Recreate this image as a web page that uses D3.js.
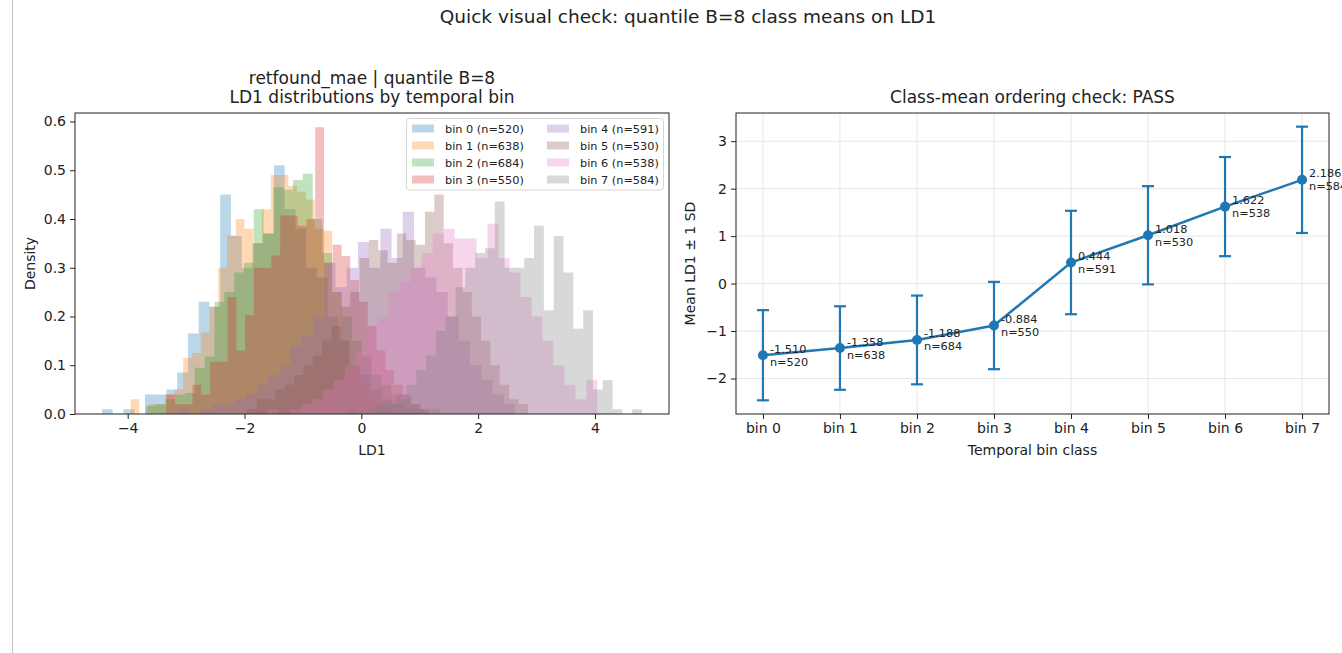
<!DOCTYPE html>
<html>
<head>
<meta charset="utf-8">
<script src="https://cdn.jsdelivr.net/npm/d3@7"></script>
<style>
body { margin: 0; background: #fff; }
text { font-family: "DejaVu Sans", sans-serif; fill: #222; }
</style>
</head>
<body>
<svg id="chart" width="1342" height="653"></svg>
<script>
// temporal bins
var binNames = ["bin 0", "bin 1", "bin 2", "bin 3", "bin 4", "bin 5", "bin 6", "bin 7"];
var binCounts = [520, 638, 684, 550, 591, 530, 538, 584];
var classMeans = [-1.510, -1.358, -1.188, -0.884, 0.444, 1.018, 1.622, 2.186];
var classSDs = [0.95, 0.88, 0.935, 0.92, 1.09, 1.035, 1.045, 1.12];

// LD1 range of each bin (30 histogram bins each)
var histLo = [-4.44, -3.95, -3.69, -3.34, -3.13, -1.95, -1.60, -0.235];
var histHi = [1.08, 0.55, 1.35, 1.16, 2.63, 2.85, 4.04, 4.805];

// density per histogram bin
var dens0 = [0.01, 0, 0.01, 0, 0.04, 0.04, 0.05, 0.085, 0.165, 0.23, 0.22, 0.45, 0.365, 0.30, 0.35, 0.37, 0.51, 0.42, 0.38, 0.30, 0.28, 0.20, 0.15, 0.10, 0.08, 0.05, 0.03, 0.02, 0.01, 0.01];
var dens1 = [0.03, 0, 0.02, 0.02, 0.04, 0.05, 0.115, 0.125, 0.167, 0.22, 0.30, 0.366, 0.40, 0.38, 0.35, 0.42, 0.49, 0.49, 0.468, 0.456, 0.44, 0.38, 0.376, 0.25, 0.15, 0.10, 0.06, 0.04, 0.02, 0.01];
var dens2 = [0.017, 0.02, 0.03, 0.04, 0.043, 0.095, 0.118, 0.23, 0.25, 0.29, 0.31, 0.42, 0.37, 0.465, 0.46, 0.48, 0.493, 0.40, 0.33, 0.25, 0.20, 0.15, 0.12, 0.08, 0.06, 0.04, 0.03, 0.02, 0.01, 0.01];
var dens3 = [0.04, 0.02, 0.02, 0.06, 0.04, 0.107, 0.107, 0.24, 0.13, 0.203, 0.30, 0.30, 0.325, 0.407, 0.407, 0.386, 0.40, 0.588, 0.31, 0.347, 0.324, 0.275, 0.23, 0.18, 0.13, 0.09, 0.06, 0.04, 0.02, 0.01];
var dens4 = [0.01, 0, 0.01, 0.02, 0.02, 0.03, 0.04, 0.06, 0.08, 0.10, 0.14, 0.16, 0.20, 0.31, 0.26, 0.30, 0.353, 0.30, 0.38, 0.32, 0.415, 0.30, 0.28, 0.25, 0.20, 0.15, 0.10, 0.07, 0.04, 0.02];
var dens5 = [0.01, 0.03, 0.03, 0.05, 0.06, 0.08, 0.10, 0.12, 0.15, 0.18, 0.22, 0.25, 0.32, 0.357, 0.336, 0.31, 0.37, 0.357, 0.347, 0.415, 0.45, 0.35, 0.30, 0.25, 0.20, 0.15, 0.10, 0.06, 0.03, 0.02];
var dens6 = [0.01, 0, 0.01, 0.02, 0.03, 0.05, 0.07, 0.10, 0.13, 0.18, 0.20, 0.25, 0.27, 0.30, 0.33, 0.37, 0.38, 0.36, 0.36, 0.32, 0.39, 0.32, 0.29, 0.24, 0.20, 0.15, 0.10, 0.06, 0.03, 0.07];
var dens7 = [0.01, 0, 0.01, 0.02, 0.02, 0.04, 0.06, 0.09, 0.12, 0.17, 0.20, 0.26, 0.30, 0.33, 0.34, 0.436, 0.30, 0.30, 0.32, 0.386, 0.213, 0.365, 0.29, 0.175, 0.213, 0.05, 0.069, 0.01, 0, 0.01];
var densities = [dens0, dens1, dens2, dens3, dens4, dens5, dens6, dens7];

// ticks
var xTicksLeft = [-4, -2, 0, 2, 4];
var yTicksLeft = [0, 0.1, 0.2, 0.3, 0.4, 0.5, 0.6];
var yTicksRight = [-2, -1, 0, 1, 2, 3];

var colors = d3.schemeCategory10;
var svg = d3.select("#chart");

// page border line on the left
svg.append("line").attr("x1", 12.5).attr("x2", 12.5).attr("y1", 0).attr("y2", 653)
   .attr("stroke", "#c4c4c4").attr("stroke-width", 1);

svg.append("text").attr("x", 688).attr("y", 23).attr("text-anchor", "middle")
   .style("font-size", "18.5px").text("Quick visual check: quantile B=8 class means on LD1");

// ---------- left: histograms ----------
var L = {left: 75, right: 669, top: 113, bottom: 414};
var lo = d3.min(histLo), hi = d3.max(histHi);
var pad = 0.05 * (hi - lo);
var xL = d3.scaleLinear().domain([lo - pad, hi + pad]).range([L.left, L.right]);
var maxD = d3.max(densities, function(d) { return d3.max(d); });
var yL = d3.scaleLinear().domain([0, maxD * 1.05]).range([L.bottom, L.top]);

var hists = densities.map(function(vals, i) {
  var w = (histHi[i] - histLo[i]) / vals.length;
  var pts = vals.map(function(v, k) { return {x: histLo[i] + k * w, y: v}; });
  pts.push({x: histHi[i], y: vals[vals.length - 1]});
  return pts;
});

var area = d3.area()
  .x(function(d) { return xL(d.x); })
  .y0(yL(0))
  .y1(function(d) { return yL(d.y); })
  .curve(d3.curveStepAfter);

var gL = svg.append("g");
gL.selectAll("path.hist")
  .data(hists)
  .enter()
  .append("path")
  .attr("class", "hist")
  .attr("d", area)
  .attr("fill", function(d, i) { return colors[i]; })
  .attr("fill-opacity", 0.3);

gL.append("g").attr("transform", "translate(0," + L.bottom + ")")
  .call(d3.axisBottom(xL).tickValues(xTicksLeft).tickFormat(d3.format("d")).tickSize(5).tickPadding(4));
gL.append("g").attr("transform", "translate(" + L.left + ",0)")
  .call(d3.axisLeft(yL).tickValues(yTicksLeft).tickFormat(d3.format(".1f")).tickSize(5).tickPadding(4));

gL.append("rect").attr("x", L.left).attr("y", L.top)
  .attr("width", L.right - L.left).attr("height", L.bottom - L.top)
  .attr("fill", "none").attr("stroke", "#222").attr("stroke-width", 1);

gL.append("text").attr("x", (L.left + L.right) / 2).attr("y", 84).attr("text-anchor", "middle")
  .style("font-size", "17px").text("retfound_mae | quantile B=8");
gL.append("text").attr("x", (L.left + L.right) / 2).attr("y", 103).attr("text-anchor", "middle")
  .style("font-size", "17px").text("LD1 distributions by temporal bin");
gL.append("text").attr("x", (L.left + L.right) / 2).attr("y", 455).attr("text-anchor", "middle")
  .style("font-size", "14px").text("LD1");
gL.append("text").attr("transform", "translate(35," + (L.top + L.bottom) / 2 + ") rotate(-90)")
  .attr("text-anchor", "middle").style("font-size", "14px").text("Density");

// legend
var leg = gL.append("g");
leg.append("rect").attr("x", 406.5).attr("y", 118.5).attr("width", 257).attr("height", 71.5)
   .attr("rx", 3).attr("fill", "#fff").attr("fill-opacity", 0.8)
   .attr("stroke", "#d6d6d6").attr("stroke-width", 1);
var items = leg.selectAll("g.item")
  .data(binNames)
  .enter()
  .append("g")
  .attr("class", "item")
  .attr("transform", function(d, i) {
    var col = Math.floor(i / 4), row = i % 4;
    return "translate(" + (412 + col * 135) + "," + (128.5 + row * 17) + ")";
  });
items.append("rect").attr("x", 0).attr("y", -4).attr("width", 22).attr("height", 8)
  .attr("fill", function(d, i) { return colors[i]; }).attr("fill-opacity", 0.3);
items.append("text").attr("x", 33).attr("y", 4).style("font-size", "11.3px")
  .text(function(d, i) { return d + " (n=" + binCounts[i] + ")"; });

// ---------- right: class means ----------
var R = {left: 736, right: 1329, top: 113, bottom: 414};
var xR = d3.scaleLinear().domain([-0.35, binNames.length - 1 + 0.35]).range([R.left, R.right]);
var lows = classMeans.map(function(m, i) { return m - classSDs[i]; });
var highs = classMeans.map(function(m, i) { return m + classSDs[i]; });
var rlo = d3.min(lows), rhi = d3.max(highs), rpad = 0.05 * (rhi - rlo);
var yR = d3.scaleLinear().domain([rlo - rpad, rhi + rpad]).range([R.bottom, R.top]);

var gR = svg.append("g");
// grid
gR.selectAll("line.gx").data(d3.range(binNames.length)).enter().append("line")
  .attr("x1", function(d) { return xR(d); }).attr("x2", function(d) { return xR(d); })
  .attr("y1", R.top).attr("y2", R.bottom).attr("stroke", "#e6e6e6").attr("stroke-width", 1);
gR.selectAll("line.gy").data(yTicksRight).enter().append("line")
  .attr("y1", function(d) { return yR(d); }).attr("y2", function(d) { return yR(d); })
  .attr("x1", R.left).attr("x2", R.right).attr("stroke", "#e6e6e6").attr("stroke-width", 1);

gR.append("g").attr("transform", "translate(0," + R.bottom + ")")
  .call(d3.axisBottom(xR).tickValues(d3.range(binNames.length))
    .tickFormat(function(d) { return binNames[d]; }).tickSize(5).tickPadding(4));
gR.append("g").attr("transform", "translate(" + R.left + ",0)")
  .call(d3.axisLeft(yR).tickValues(yTicksRight).tickFormat(d3.format("d")).tickSize(5).tickPadding(4));

var blue = colors[0];
// error bars
var eb = gR.selectAll("g.eb").data(classMeans).enter().append("g").attr("class", "eb");
eb.append("line")
  .attr("x1", function(d, i) { return xR(i); }).attr("x2", function(d, i) { return xR(i); })
  .attr("y1", function(d, i) { return yR(lows[i]); }).attr("y2", function(d, i) { return yR(highs[i]); })
  .attr("stroke", blue).attr("stroke-width", 2.2);
eb.append("line")
  .attr("x1", function(d, i) { return xR(i) - 6; }).attr("x2", function(d, i) { return xR(i) + 6; })
  .attr("y1", function(d, i) { return yR(lows[i]); }).attr("y2", function(d, i) { return yR(lows[i]); })
  .attr("stroke", blue).attr("stroke-width", 2.2);
eb.append("line")
  .attr("x1", function(d, i) { return xR(i) - 6; }).attr("x2", function(d, i) { return xR(i) + 6; })
  .attr("y1", function(d, i) { return yR(highs[i]); }).attr("y2", function(d, i) { return yR(highs[i]); })
  .attr("stroke", blue).attr("stroke-width", 2.2);

var line = d3.line().x(function(d, i) { return xR(i); }).y(function(d) { return yR(d); });
gR.append("path").datum(classMeans).attr("d", line)
  .attr("fill", "none").attr("stroke", blue).attr("stroke-width", 2.5);
gR.selectAll("circle.pt").data(classMeans).enter().append("circle")
  .attr("cx", function(d, i) { return xR(i); }).attr("cy", function(d) { return yR(d); })
  .attr("r", 5).attr("fill", blue);

var lab = gR.selectAll("text.lab").data(classMeans).enter().append("text")
  .attr("class", "lab").style("font-size", "11.3px");
lab.append("tspan")
  .attr("x", function(d, i) { return xR(i) + 7; }).attr("y", function(d) { return yR(d) - 2.5; })
  .text(function(d) { return d.toFixed(3); });
lab.append("tspan")
  .attr("x", function(d, i) { return xR(i) + 7; }).attr("y", function(d) { return yR(d) + 10.5; })
  .text(function(d, i) { return "n=" + binCounts[i]; });

gR.append("rect").attr("x", R.left).attr("y", R.top)
  .attr("width", R.right - R.left).attr("height", R.bottom - R.top)
  .attr("fill", "none").attr("stroke", "#222").attr("stroke-width", 1);

gR.append("text").attr("x", (R.left + R.right) / 2).attr("y", 103).attr("text-anchor", "middle")
  .style("font-size", "17px").text("Class-mean ordering check: PASS");
gR.append("text").attr("x", (R.left + R.right) / 2).attr("y", 455).attr("text-anchor", "middle")
  .style("font-size", "14px").text("Temporal bin class");
gR.append("text").attr("transform", "translate(695," + (R.top + R.bottom) / 2 + ") rotate(-90)")
  .attr("text-anchor", "middle").style("font-size", "14px").text("Mean LD1 \u00b1 1 SD");

// axis styling like the reference
svg.selectAll(".domain").remove();
svg.selectAll(".tick line").attr("stroke", "#222");
svg.selectAll(".tick text").style("font-size", "14px").style("font-family", "DejaVu Sans").attr("fill", "#222");
</script>
</body>
</html>
